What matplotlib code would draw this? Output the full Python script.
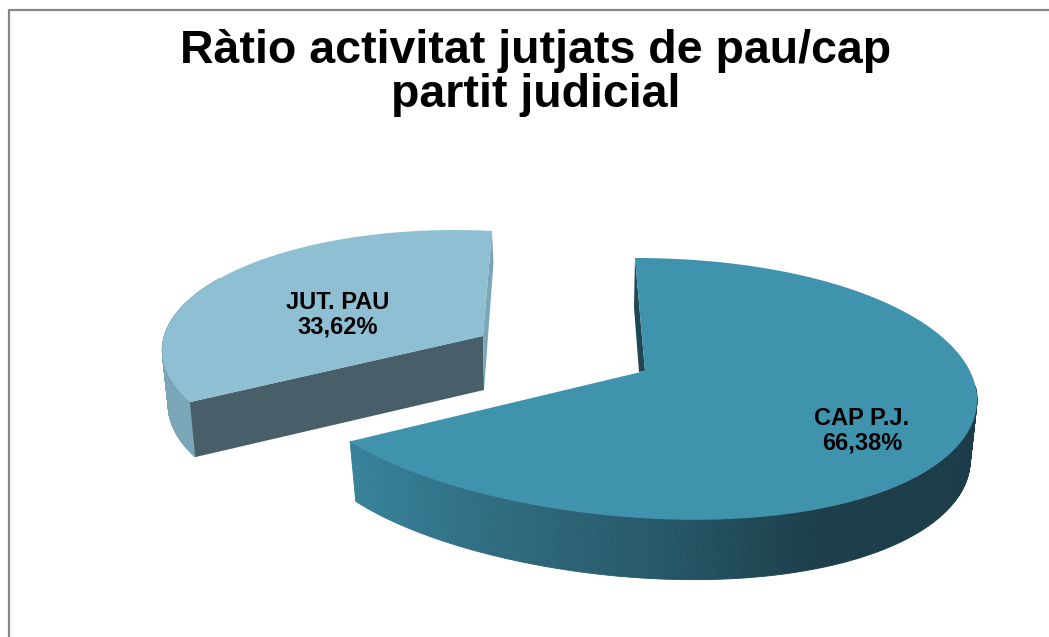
import matplotlib
matplotlib.use('Agg')
import matplotlib.pyplot as plt
import numpy as n
from matplotlib.colors import LinearSegmentedColormap

plt.rcParams['font.family'] = ['Liberation Sans', 'DejaVu Sans']

# data
title = 'Ràtio activitat jutjats de pau/cap\npartit judicial'
labels = ['CAP P.J.', 'JUT. PAU']
shares = [66.38, 33.62]
share_text = ['66,38%', '33,62%']

top_colors = ['#3f93ad', '#8fbfd2']
side_shades = ['#37829a', '#2f6a7e', '#265868', '#1c3e4a', '#1b3c48']
small_wall = '#7ba6b8'
small_front = '#485f69'
big_cut = '#1f4653'
frame_color = '#868686'

# the pie is a tilted disc, so the rim is a slightly skewed ellipse (pixels)
big = dict(cx=638.4, cy=388, rx=338.6, ry=130, t=-3.4, s=10.5, s2=-10.5)
small = dict(cx=460, cy=352.6, rx=296, ry=121.6, t=32, s=15.4, s2=0)
big_apex = (645, 371)
small_apex = (483, 336)
big_depth = 60
small_depth = 55


def rim(theta, cx, cy, rx, ry, t, s, s2, depth=0, shrink=1.0):
    # theta in degrees clockwise from the top of the pie
    a = n.radians(theta)
    x = cx + shrink * (rx * n.sin(a) + t * n.cos(a))
    y = cy - ry * n.cos(a) + s * n.sin(a) + s2 * n.sin(a) * n.cos(a) + depth
    return x, y


def wall(ax, geo, depth, t0, t1, colors):
    # outer wall as thin quads, colour follows the x position
    steps = n.linspace(t0, t1, 241)
    for i in range(len(steps) - 1):
        seg = n.array([steps[i], steps[i + 1]])
        xt, yt = rim(seg, **geo)
        xb, yb = rim(seg, **geo, depth=depth, shrink=0.98)
        c = colors(n.clip((xt.mean() - 350) / (977 - 350), 0, 1))
        ax.fill(n.r_[xt, xb[::-1]], n.r_[yt, yb[::-1]], color=c, lw=0.6, zorder=2)


fig = plt.figure(figsize=(10.49, 6.37), dpi=100)
ax = fig.add_axes([0, 0, 1, 1])
ax.set_xlim(0, 1049)
ax.set_ylim(637, 0)
ax.axis('off')

# slice angles come from the shares
sweep = n.array(shares) / sum(shares) * 360
big_end = sweep[0]

side_map = LinearSegmentedColormap.from_list('side', side_shades)

# big slice
wall(ax, big, big_depth, 85, big_end, side_map)
x0, y0 = rim(n.array([0.0]), **big)
ax.fill([x0[0], x0[0] - 1, big_apex[0] - 6, big_apex[0]],
        [y0[0], y0[0] + 49, big_apex[1] + 1, big_apex[1]],
        color=big_cut, lw=0, zorder=3)
th = n.linspace(0, big_end, 400)
xr, yr = rim(th, **big)
ax.fill(n.r_[big_apex[0], xr], n.r_[big_apex[1], yr], color=top_colors[0], lw=0, zorder=4)

# small slice, pulled out of the pie
wall(ax, small, small_depth, big_end, 300, lambda v: small_wall)
xe, ye = rim(n.array([big_end]), **small)
xl, yl = rim(n.array([big_end]), **small, depth=small_depth, shrink=0.98)
ax.fill([small_apex[0], xe[0], xl[0], small_apex[0] + 1],
        [small_apex[1], ye[0], yl[0], small_apex[1] + 54],
        color=small_front, lw=0, zorder=3)
xs, ys = rim(n.array([360.0]), **small)
ax.fill([xs[0], xs[0] + 1.5, small_apex[0] + 1, small_apex[0]],
        [ys[0], ys[0] + 32, small_apex[1] + 54, small_apex[1]],
        color=small_wall, lw=0, zorder=3)
th = n.linspace(big_end, 360, 300)
xr, yr = rim(th, **small)
ax.fill(n.r_[small_apex[0], xr], n.r_[small_apex[1], yr], color=top_colors[1], lw=0, zorder=4)

# frame, only left and top sides show
ax.plot([9, 9, 1049], [637, 9.5, 9.5], color=frame_color, lw=1.6, zorder=1)

ax.text(536, 73, title, ha='center', va='center', fontsize=33.5, fontweight='bold',
        color='black', linespacing=1.0, zorder=5)
ax.text(862, 431, labels[0] + '\n' + share_text[0], ha='center', va='center',
        fontsize=17, fontweight='bold', color='black', linespacing=1.1, zorder=5)
ax.text(338, 315, labels[1] + '\n' + share_text[1], ha='center', va='center',
        fontsize=17, fontweight='bold', color='black', linespacing=1.1, zorder=5)

plt.savefig('out.png', dpi=100)
